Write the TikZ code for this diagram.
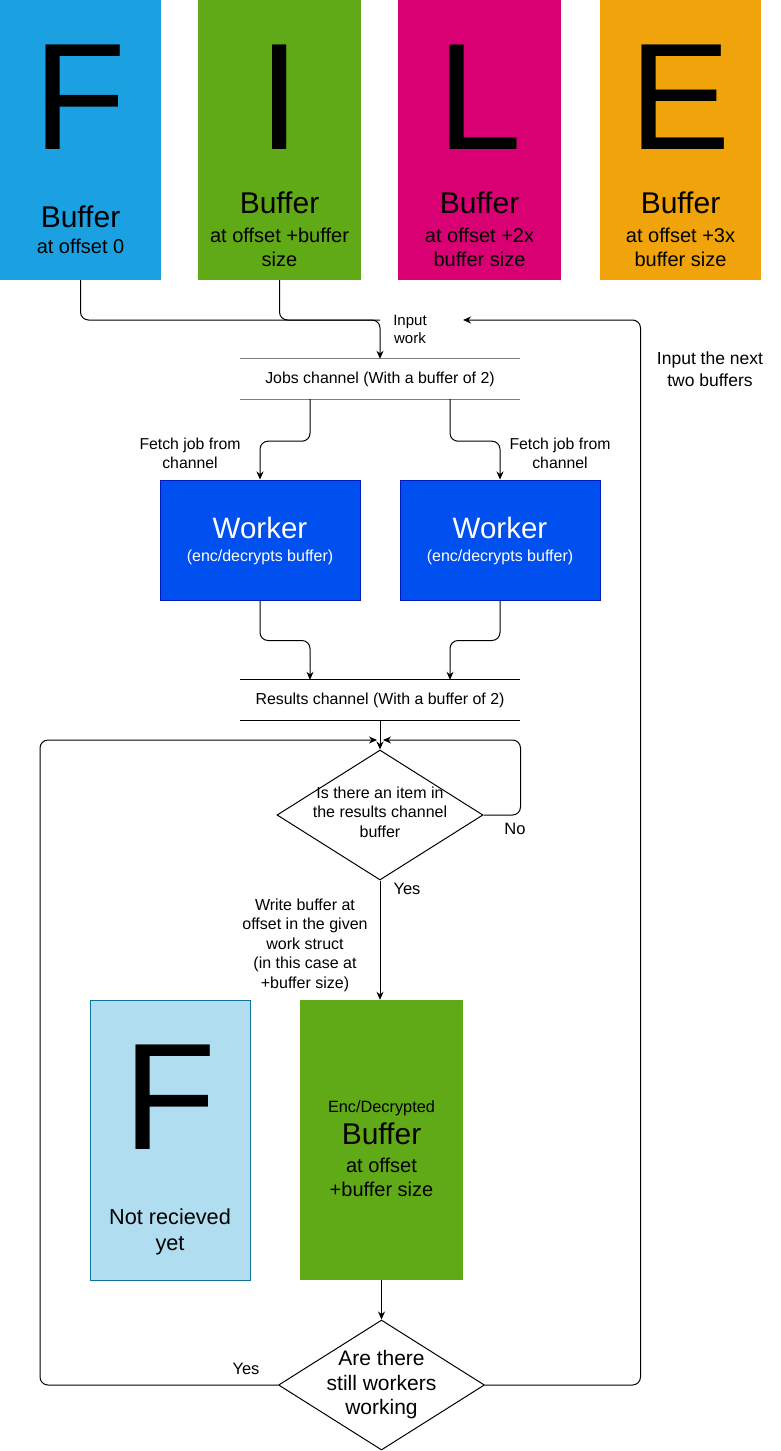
\documentclass[tikz,border=0pt]{standalone}
\usepackage{fontspec}
\setmainfont{Liberation Sans}
\usetikzlibrary{shapes.geometric,arrows.meta}
\definecolor{cblue}{HTML}{1BA1E2}
\definecolor{cgreen}{HTML}{60A917}
\definecolor{cmag}{HTML}{D80073}
\definecolor{corange}{HTML}{F0A30A}
\definecolor{cworker}{HTML}{0050EF}
\definecolor{cworkerb}{HTML}{001DBC}
\definecolor{clight}{HTML}{B1DDF0}
\definecolor{clightb}{HTML}{10739E}
\definecolor{cgray}{HTML}{808080}
\newcommand{\myfs}[1]{\fontsize{#1}{#1}\selectfont}
\tikzset{
  filebox/.style={minimum height=280, inner sep=0, draw=none},
  bigletter/.style={inner sep=0, font={\myfs{152}}},
  tl/.style={inner sep=0, anchor=base, font={\myfs{#1}}},
  ln/.style={line width=1pt, rounded corners=8},
  arr/.style={line width=1pt, rounded corners=8, -{Stealth[length=8pt,width=7pt]}},
  chan/.style={minimum width=280, minimum height=40, inner sep=0, font={\myfs{15.9}}},
  worker/.style={minimum width=200, minimum height=120, inner sep=0, fill=cworker, draw=cworkerb, line width=1pt},
  dia/.style={diamond, draw, line width=1pt, minimum width=206, minimum height=130, inner sep=0},
}
\begin{document}
\begin{tikzpicture}[x=1pt,y=-1pt]
\useasboundingbox (0,0) rectangle (781,1451);
% top file boxes
\node[filebox, fill=cblue, minimum width=161] (fbox) at (80.5,140) {};
\node[filebox, fill=cgreen, minimum width=163] (ibox) at (279.5,140) {};
\node[filebox, fill=cmag, minimum width=163] (lbox) at (479.5,140) {};
\node[filebox, fill=corange, minimum width=161] (ebox) at (680.5,140) {};
\node[bigletter] (lF) at (80,97) {F};
\node[bigletter] (lI) at (279.5,97) {I};
\node[bigletter] (lL) at (479.5,97) {L};
\node[bigletter] (lE) at (680.5,97) {E};
\node[tl=30] (fB) at (80.5,227) {Buffer};
\node[tl=20] (fO) at (80.5,253) {at offset 0};
\node[tl=30] (iB) at (279.5,213) {Buffer};
\node[tl=20] (iO) at (279.5,242) {at offset +buffer};
\node[tl=20] (iS) at (279.5,266) {size};
\node[tl=30] (lB) at (479.5,213) {Buffer};
\node[tl=20] (lO) at (479.5,242) {at offset +2x};
\node[tl=20] (lS) at (479.5,266) {buffer size};
\node[tl=30] (eB) at (680.5,213) {Buffer};
\node[tl=20] (eO) at (680.5,242) {at offset +3x};
\node[tl=20] (eS) at (680.5,266) {buffer size};
% channels
\node[chan] (jobs) at (380,379) {Jobs channel (With a buffer of 2)};
\draw[line width=1pt, cgray] (jobs.north west) -- (jobs.north east);
\draw[line width=1pt, cgray] (jobs.south west) -- (jobs.south east);
\node[chan] (res) at (380,700) {Results channel (With a buffer of 2)};
\draw[line width=1pt] (res.north west) -- (res.north east);
\draw[line width=1pt] (res.south west) -- (res.south east);
% workers
\node[worker] (w1) at (260,540) {};
\node[worker] (w2) at (500,540) {};
\node[tl=29.5, text=white] (w1t) at (260,538) {Worker};
\node[tl=16, text=white] (w1s) at (260,561) {(enc/decrypts buffer)};
\node[tl=29.5, text=white] (w2t) at (500,538) {Worker};
\node[tl=16, text=white] (w2s) at (500,561) {(enc/decrypts buffer)};
% diamonds
\node[dia] (d1) at (380,815) {};
\node[tl=16] (d1a) at (380,798) {Is there an item in};
\node[tl=16] (d1b) at (380,817) {the results channel};
\node[tl=16] (d1c) at (380,837) {buffer};
\node[dia] (d2) at (381.5,1385) {};
\node[tl=21] (d2a) at (381.5,1365) {Are there};
\node[tl=21] (d2b) at (381.5,1390) {still workers};
\node[tl=21] (d2c) at (381.5,1414) {working};
% bottom boxes
\node[filebox, fill=clight, draw=clightb, line width=1pt, minimum width=160] (nbox) at (170,1140) {};
\node[bigletter] (nF) at (170,1097) {F};
\node[tl=21.7] (n1) at (170,1224) {Not recieved};
\node[tl=21.7] (n2) at (170,1250) {yet};
\node[filebox, fill=cgreen, minimum width=163] (gbox) at (381.5,1140) {};
\node[tl=16.3] (g1) at (381.5,1112) {Enc/Decrypted};
\node[tl=30] (g2) at (381.5,1144) {Buffer};
\node[tl=20] (g3) at (381.5,1172) {at offset};
\node[tl=20] (g4) at (381.5,1196) {+buffer size};
% coordinates
\coordinate (jn) at (380,320);
\coordinate (iend) at (463,320);
\coordinate (lend) at (377,740);
\coordinate (nend) at (383,740);
% connectors
\draw[arr] (fbox.south) |- (jn) -- (jobs.north);
\draw[ln] (ibox.south) |- (jn);
\draw[arr] ([xshift=-70]jobs.south) -- ++(0,42) -| (w1.north);
\draw[arr] ([xshift=70]jobs.south) -- ++(0,42) -| (w2.north);
\draw[arr] (w1.south) -- ++(0,40) -| ([xshift=-70]res.north);
\draw[arr] (w2.south) -- ++(0,40) -| ([xshift=70]res.north);
\draw[arr] (res.south) -- (d1.north);
\draw[arr] (d1.east) -- ++(37,0) |- (nend);
\draw[arr] (d1.south) -- (d1.south |- gbox.north);
\draw[arr] (gbox.south) -- (gbox.south |- d2.north);
\draw[arr] (d2.west) -- ++(-238,0) |- (lend);
\draw[arr] (d2.east) -- ++(155.5,0) |- (iend);
% labels
\node[tl=15] (inw1) at (410,325) {Input};
\node[tl=15] (inw2) at (410,343) {work};
\node[tl=17.5] (nx1) at (710,364) {Input the next};
\node[tl=17.5] (nx2) at (710,386) {two buffers};
\node[tl=15.8] (fj1) at (190,449) {Fetch job from};
\node[tl=15.8] (fj2) at (190,468) {channel};
\node[tl=15.8] (fk1) at (560,449) {Fetch job from};
\node[tl=15.8] (fk2) at (560,468) {channel};
\node[tl=16.5] (no) at (515,834) {No};
\node[tl=16.5] (yes1) at (407,894) {Yes};
\node[tl=16] (wb1) at (305,910) {Write buffer at};
\node[tl=16] (wb2) at (305,929) {offset in the given};
\node[tl=16] (wb3) at (305,949) {work struct};
\node[tl=16] (wb4) at (305,968) {(in this case at};
\node[tl=16] (wb5) at (305,988) {+buffer size)};
\node[tl=16.5] (yes2) at (246,1374) {Yes};
\end{tikzpicture}
\end{document}
